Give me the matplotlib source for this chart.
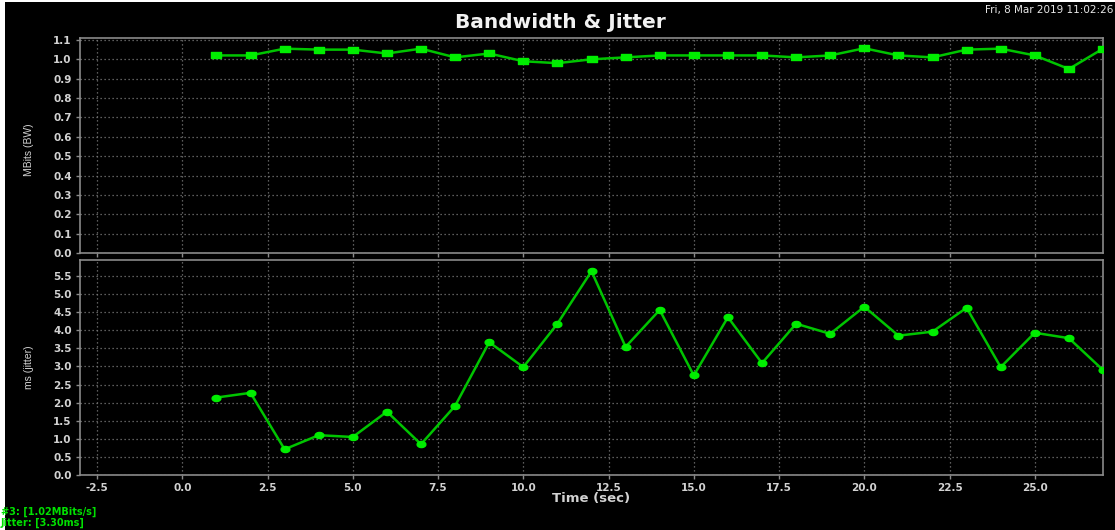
import matplotlib
matplotlib.use("Agg")
import matplotlib.pyplot as plt
from matplotlib.patches import Rectangle
from matplotlib.path import Path
import numpy as np

# Per-second samples
seconds = list(range(1, 28))
bandwidth_mbits = [1.02, 1.02, 1.055, 1.05, 1.05, 1.03, 1.055, 1.01, 1.03, 0.99,
                   0.98, 1.00, 1.01, 1.02, 1.02, 1.02, 1.02, 1.01, 1.02, 1.057,
                   1.02, 1.01, 1.05, 1.055, 1.02, 0.95, 1.055]
jitter_ms = [2.14, 2.27, 0.71, 1.10, 1.05, 1.75, 0.85, 1.91, 3.67, 2.98,
             4.18, 5.63, 3.54, 4.56, 2.75, 4.36, 3.09, 4.18, 3.90, 4.65,
             3.85, 3.96, 4.62, 2.98, 3.93, 3.78, 2.90]

bw_ticks = [0.0, 0.1, 0.2, 0.3, 0.4, 0.5, 0.6, 0.7, 0.8, 0.9, 1.0, 1.1]
jit_ticks = [0.0, 0.5, 1.0, 1.5, 2.0, 2.5, 3.0, 3.5, 4.0, 4.5, 5.0, 5.5]
time_ticks = [-2.5, 0.0, 2.5, 5.0, 7.5, 10.0, 12.5, 15.0, 17.5, 20.0, 22.5, 25.0]

title = "Bandwidth & Jitter"
timestamp = "Fri, 8 Mar 2019 11:02:26"
status_lines = ["#3: [1.02MBits/s]", "Jitter: [3.30ms]"]

W, H = 1115, 530
fig = plt.figure(figsize=(W / 100, H / 100), dpi=100, facecolor="black")

def fx(px):
    return px / W

def fy(py):
    return 1 - py / H

# white frame strips on the left and top edges
fig.patches.append(Rectangle((0, 0), fx(5), 1, transform=fig.transFigure,
                             facecolor="white", edgecolor="none", zorder=0))
fig.patches.append(Rectangle((0, fy(2)), 1, 2 / H, transform=fig.transFigure,
                             facecolor="white", edgecolor="none", zorder=0))

left, right = fx(80), fx(1103)
ax_bw = fig.add_axes([left, fy(253), right - left, fy(38) - fy(253)])
ax_jit = fig.add_axes([left, fy(475), right - left, fy(260) - fy(475)])

# wide rectangle and wide ellipse markers
rect_marker = Path([(-1, -0.62), (1, -0.62), (1, 0.62), (-1, 0.62), (-1, -0.62)],
                   [Path.MOVETO, Path.LINETO, Path.LINETO, Path.LINETO, Path.CLOSEPOLY])
theta = np.linspace(0, 2 * np.pi, 40)
ell_marker = Path(np.column_stack([np.cos(theta), 0.7 * np.sin(theta)]))

line_col = "#00c400"
mark_col = "#00ee00"
tick_col = "#d2d2d2"
grid_col = "#7a7a7a"
spine_col = "#8a8a8a"

ax_bw.plot(seconds, bandwidth_mbits, color=line_col, lw=1.8, marker=rect_marker,
           markersize=7, markerfacecolor=mark_col, markeredgecolor=mark_col,
           zorder=3)
ax_jit.plot(seconds, jitter_ms, color=line_col, lw=1.8, marker=ell_marker,
            markersize=6.3, markerfacecolor=mark_col, markeredgecolor=mark_col,
            zorder=3)

ax_bw.set_ylim(0, 1.11)
ax_jit.set_ylim(0, 5.94)
for ax, yt in ((ax_bw, bw_ticks), (ax_jit, jit_ticks)):
    ax.set_facecolor("black")
    ax.set_xlim(-3, 27)
    ax.set_xticks(time_ticks)
    ax.set_yticks(yt)
    ax.set_yticklabels([f"{v:.1f}" for v in yt])
    ax.set_xticklabels([f"{v:.1f}" for v in time_ticks])
    ax.grid(True, color=grid_col, lw=0.9, linestyle=(0, (1, 2.2)))
    ax.set_axisbelow(True)
    for sp in ax.spines.values():
        sp.set_color(spine_col)
        sp.set_linewidth(1.2)
    ax.tick_params(colors=spine_col, labelcolor=tick_col, length=3, width=1,
                   labelsize=7.5, pad=3)
    for lab in ax.get_yticklabels() + ax.get_xticklabels():
        lab.set_fontweight("bold")

ax_bw.tick_params(labelbottom=False)

label_family = ["Liberation Sans Narrow", "Liberation Sans", "DejaVu Sans"]
ax_bw.set_ylabel("MBits (BW)", color=tick_col, fontsize=7.5, family=label_family)
ax_jit.set_ylabel("ms (jitter)", color=tick_col, fontsize=7.5, family=label_family)
label_x = (34 - 80) / (1103 - 80)
ax_bw.yaxis.set_label_coords(label_x, 0.48)
ax_jit.yaxis.set_label_coords(label_x, 0.5)

ax_jit.set_xlabel("Time (sec)", color=tick_col, fontsize=9.5, fontweight="bold",
                  labelpad=-1)

fig.text(fx(560), fy(22), title, color="#f2f2f2", fontsize=14.5, fontweight="bold",
         ha="center", va="center")
fig.text(fx(1113), fy(10), timestamp, color="#e8e8e8", fontsize=7.5,
         ha="right", va="center")
fig.text(fx(1), fy(512), status_lines[0], color="#00e000", fontsize=7,
         fontweight="bold", ha="left", va="center", zorder=5)
fig.text(fx(1), fy(523), status_lines[1], color="#00e000", fontsize=7,
         fontweight="bold", ha="left", va="center", zorder=5)

fig.savefig("out.png", dpi=100, facecolor="black")
